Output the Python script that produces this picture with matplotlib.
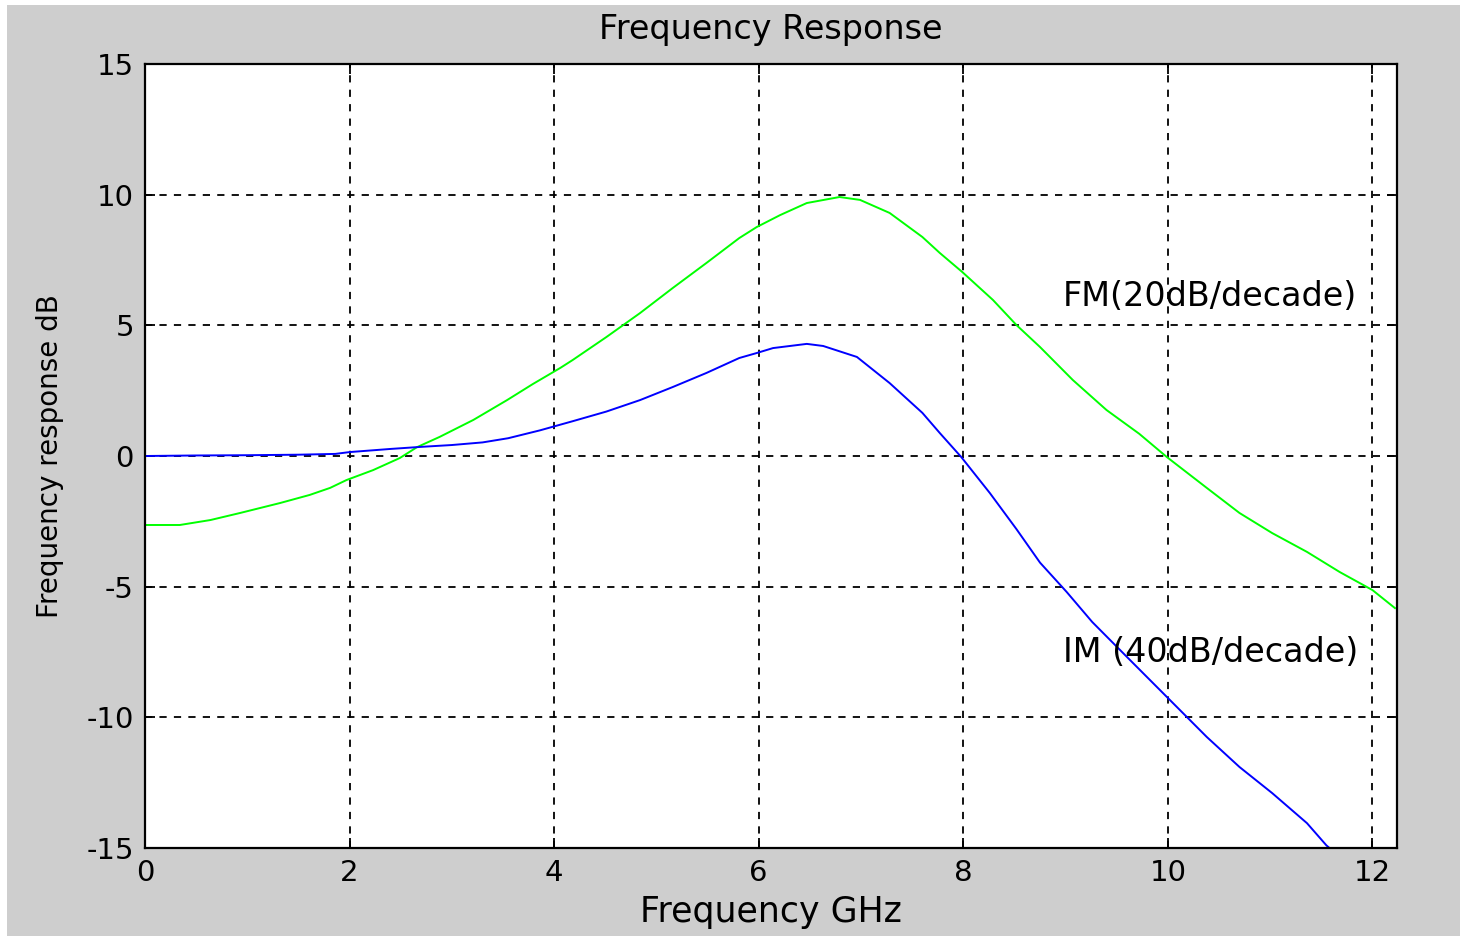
import numpy as np
from matplotlib import pyplot as plt
from matplotlib.patches import Rectangle

# FM curve (green)
fm_x = [0.0, 0.34, 0.64, 0.93, 1.32, 1.61, 1.81, 1.97, 2.23, 2.49, 2.66, 2.88, 3.21, 3.54,
        3.79, 4.06, 4.18, 4.51, 4.84, 5.16, 5.49, 5.81, 5.98, 6.21, 6.47, 6.79, 6.99, 7.28,
        7.6, 7.77, 7.99, 8.29, 8.52, 8.75, 9.07, 9.4, 9.72, 9.99, 10.38, 10.7, 11.02, 11.36,
        11.68, 12.0, 12.22]
fm_y = [-2.64, -2.64, -2.45, -2.18, -1.8, -1.49, -1.22, -0.92, -0.54, -0.08, 0.34, 0.73,
        1.38, 2.14, 2.75, 3.37, 3.67, 4.55, 5.47, 6.43, 7.39, 8.34, 8.76, 9.22, 9.68, 9.91,
        9.8, 9.3, 8.38, 7.77, 7.04, 5.97, 5.01, 4.17, 2.91, 1.76, 0.85, -0.04, -1.22, -2.18,
        -2.95, -3.67, -4.44, -5.13, -5.82]

# IM curve (blue)
im_x = [0.0, 0.5, 1.0, 1.5, 1.86, 2.0, 2.4, 2.7, 3.0, 3.3, 3.55, 3.86, 4.18, 4.51, 4.84,
        5.16, 5.49, 5.81, 5.98, 6.14, 6.47, 6.63, 6.96, 7.28, 7.6, 7.77, 7.98, 8.26, 8.52,
        8.75, 9.01, 9.26, 9.6, 9.99, 10.38, 10.7, 11.02, 11.36, 11.55, 11.58]
im_y = [0.0, 0.02, 0.03, 0.05, 0.08, 0.15, 0.27, 0.35, 0.42, 0.52, 0.68, 0.98, 1.33, 1.7,
        2.14, 2.64, 3.18, 3.75, 3.94, 4.13, 4.29, 4.21, 3.79, 2.79, 1.65, 0.88, -0.04, -1.42,
        -2.8, -4.08, -5.2, -6.35, -7.69, -9.22, -10.75, -11.9, -12.9, -14.05, -14.9, -15.0]

x_ticks = [0, 2, 4, 6, 8, 10, 12]
y_ticks = [-15, -10, -5, 0, 5, 10, 15]

plt.rcParams['font.family'] = ['DejaVu Sans']
plt.rcParams['axes.unicode_minus'] = False

fig = plt.figure(figsize=(14.6, 9.36), dpi=100, facecolor='white')
# gray figure area, thin white strip on top and left like the original screenshot
fig.patches.append(Rectangle((7 / 1460, 0), 1, 1 - 5 / 936, transform=fig.transFigure,
                             facecolor='#cecece', edgecolor='none', zorder=-10))

ax = fig.add_axes([145 / 1460, 1 - 848 / 936, (1397 - 145) / 1460, (848 - 64) / 936])
ax.set_facecolor('white')

ax.plot(fm_x, fm_y, color='#00ff00', linewidth=1.4)
ax.plot(im_x, im_y, color='#0000ff', linewidth=1.4)

ax.set_xlim(0, 12.24)
ax.set_ylim(-15, 15)
ax.set_xticks(x_ticks)
ax.set_yticks(y_ticks)
ax.grid(True, color='black', linestyle=(0, (4, 4)), linewidth=1.3)
ax.tick_params(direction='in', length=7, width=1.3, top=True, right=True,
               labelsize=21, pad=8)
for s in ax.spines.values():
    s.set_linewidth(1.6)

ax.text(8.97, 6.1, 'FM(20dB/decade)', fontsize=24, va='center', ha='left')
ax.text(8.97, -7.5, 'IM (40dB/decade)', fontsize=24, va='center', ha='left')

ax.set_title('Frequency Response', fontsize=24, pad=18)
ax.set_xlabel('Frequency GHz', fontsize=25, labelpad=6)
ax.set_ylabel('Frequency response dB', fontsize=20, labelpad=16)

fig.savefig('out.png', dpi=100, facecolor=fig.get_facecolor())
